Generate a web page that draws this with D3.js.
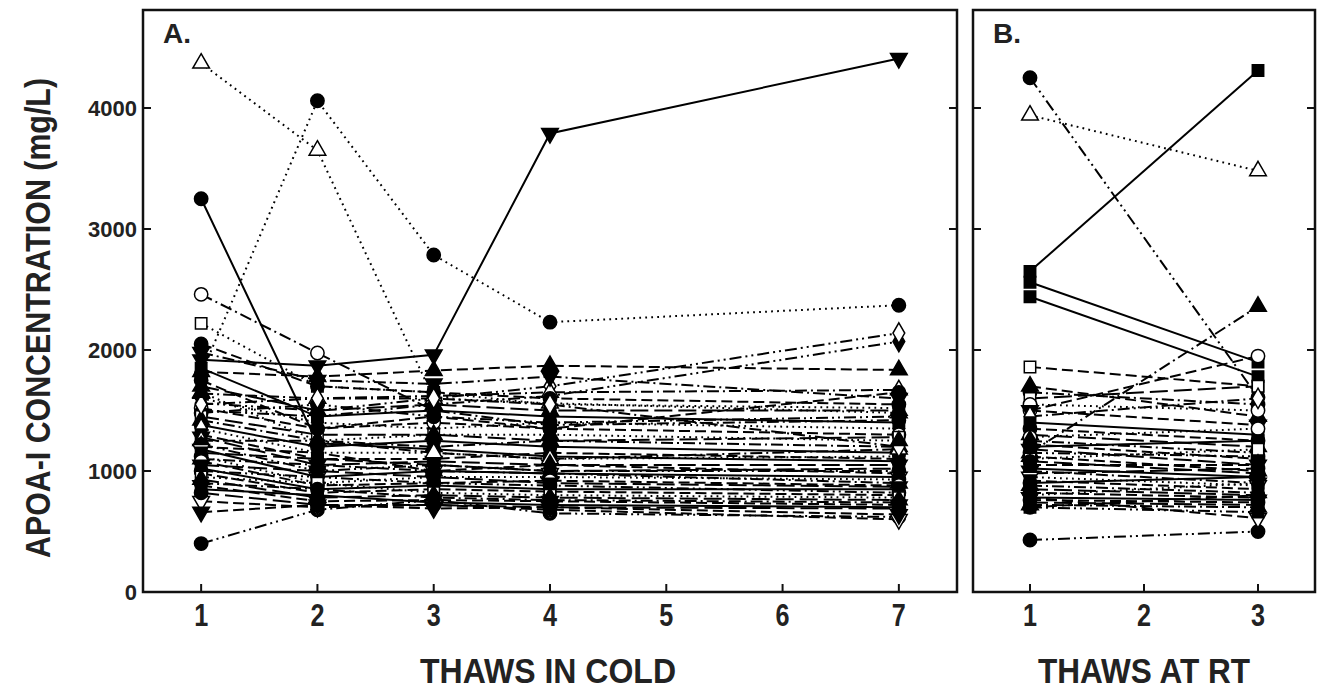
<!DOCTYPE html>
<html lang="en">
<head>
  <meta charset="UTF-8">
  <title>ApoA-I concentration after thaws</title>
  <script src="https://d3js.org/d3.v7.min.js"></script>
  <style>
    body, html {
      margin: 0;
      padding: 0;
      background: #fff;
      overflow: hidden;
    }
    svg {
      display: block;
    }
    .frame {
      fill: none;
      stroke: #111;
      stroke-width: 2.5px;
    }
    .tick-line {
      stroke: #111;
      stroke-width: 2px;
    }
    .ytick {
      font-family: "Liberation Sans", Arial, sans-serif;
      font-weight: bold;
      font-size: 22px;
      fill: #222;
    }
    .narrow {
      font-family: "Liberation Sans Narrow", "Liberation Sans", Arial, sans-serif;
      font-weight: bold;
      fill: #222;
    }
    .panel-tag {
      font-family: "Liberation Sans", Arial, sans-serif;
      font-weight: bold;
      font-size: 28px;
      fill: #222;
    }
    .series {
      fill: none;
      stroke: #000;
      stroke-width: 2px;
    }
  </style>
</head>
<body>
  <svg id="chart" width="1323" height="692"></svg>

  <script>
    // ---- data ----
    const yTicks = [0, 1000, 2000, 3000, 4000];

    // panel A: thaws in cold
    const coldThaws = [1, 2, 3, 4, 7];
    const coldTicks = [1, 2, 3, 4, 5, 6, 7];
    const coldValues = [
      [4370, 3650, 1600, 1560, 1480],
      [1800, 4060, 2785, 2230, 2370],
      [3250, 1230, 1180, 1120, 1080],
      [1920, 1870, 1960, 3790, 4410],
      [2460, 1975, 1500, 1380, 1420],
      [2220, 1700, 1650, 1550, 1520],
      [1820, 1780, 1830, 1870, 1835],
      [1500, 1450, 1550, 1620, 2070],
      [1560, 1500, 1600, 1700, 2140],
      [1640, 1600, 1620, 1650, 1670],
      [400, 680, 760, 650, 620],
      [750, 700, 720, 680, 600],
      [660, 720, 690, 700, 640],
      [2050, 1700, 1650, 1600, 1550],
      [1980, 1750, 1720, 1780, 1600],
      [1850, 1450, 1500, 1450, 1400],
      [1700, 1500, 1550, 1500, 1500],
      [1600, 1400, 1350, 1400, 1350],
      [1520, 1350, 1400, 1350, 1300],
      [1480, 1550, 1450, 1400, 1450],
      [1450, 1300, 1300, 1250, 1280],
      [1420, 1250, 1200, 1250, 1200],
      [1380, 1200, 1250, 1200, 1150],
      [1350, 1150, 1150, 1100, 1120],
      [1300, 1100, 1100, 1150, 1100],
      [1280, 1050, 1080, 1050, 1050],
      [1250, 1250, 1150, 1100, 1180],
      [1220, 1000, 1050, 1000, 1000],
      [1200, 1150, 1000, 1050, 980],
      [1180, 950, 1000, 980, 950],
      [1150, 1100, 1050, 1000, 1020],
      [1120, 900, 950, 950, 930],
      [1100, 1050, 1000, 980, 900],
      [1080, 880, 900, 920, 880],
      [1050, 1000, 950, 900, 870],
      [1020, 850, 880, 850, 850],
      [1000, 950, 900, 880, 820],
      [980, 820, 850, 830, 800],
      [950, 900, 820, 800, 780],
      [930, 780, 800, 780, 760],
      [900, 850, 780, 760, 740],
      [880, 750, 760, 750, 720],
      [850, 800, 740, 720, 700],
      [820, 720, 720, 700, 690],
      [1550, 1600, 1600, 1550, 1200],
      [1650, 1250, 1300, 1300, 1250],
      [1750, 1350, 1450, 1350, 1650]
    ];
    const coldMarker = [
      "ot", "fc", "fc", "fv", "oc", "os", "ft", "fd", "od", "ot", "fc", "ov", "fv",
      "fc", "fv", "fs", "ft", "fd", "oc", "fc", "os", "ft", "fc", "od", "fs",
      "fv", "ot", "fc", "fd", "ov", "fs", "fc", "ft", "oc", "fv", "fs", "fc",
      "fd", "os", "ft", "fc", "fv", "fs", "fc", "od", "ft", "fc"
    ];
    const coldLine = [
      "dot", "dot", "solid", "solid", "dashdot", "dot", "dash", "dashdotdot", "dashdotdot",
      "dashdot", "dashdotdot", "dash", "dash",
      "dash", "dashdot", "solid", "long", "dot", "dash", "dashdotdot", "long", "dashdot",
      "solid", "dot", "dash", "long", "dashdot", "dashdotdot", "dash", "solid", "long",
      "dot", "dashdot", "dash", "long", "solid", "dashdotdot", "dash", "dot", "long",
      "dashdot", "dash", "solid", "long", "dashdot", "dot", "dash"
    ];

    // panel B: thaws at room temperature
    const rtThaws = [1, 3];
    const rtTicks = [1, 2, 3];
    const rtValues = [
      [4250, 1610],
      [3940, 3480],
      [2650, 4310],
      [2560, 1900],
      [2440, 1780],
      [1150, 2360],
      [1860, 1700],
      [430, 500],
      [1500, 1950],
      [780, 610],
      [1700, 1450],
      [1650, 1550],
      [1600, 1700],
      [1550, 1500],
      [1500, 1380],
      [1450, 1600],
      [1400, 1300],
      [1350, 1250],
      [1300, 1200],
      [1280, 1350],
      [1250, 1150],
      [1220, 1100],
      [1200, 1250],
      [1180, 1050],
      [1150, 1120],
      [1120, 1000],
      [1100, 1180],
      [1080, 980],
      [1050, 1050],
      [1020, 950],
      [1000, 900],
      [980, 1020],
      [950, 880],
      [920, 850],
      [900, 950],
      [880, 820],
      [850, 800],
      [820, 780],
      [800, 900],
      [780, 760],
      [760, 740],
      [740, 720],
      [720, 700],
      [700, 800],
      [700, 660]
    ];
    const rtMarker = [
      "fc", "ot", "fs", "fs", "fs", "ft", "os", "fc", "oc", "ov", "ft",
      "fc", "os", "oc", "fv", "od", "fs", "fc", "ft", "oc", "fd", "fc",
      "fs", "fv", "fc", "ft", "os", "fc", "fd", "fs", "fv", "fc", "ov",
      "fs", "fc", "ft", "fd", "fc", "fs", "fv", "fc", "fs", "ft", "fc", "fs"
    ];
    const rtLine = [
      "dashdotdot", "dot", "solid", "solid", "solid", "dashdot", "dash", "dashdotdot", "dash", "dash", "dash",
      "dashdot", "long", "dot", "dash", "dashdot", "solid", "dash", "long", "dot", "dashdot", "dash",
      "solid", "long", "dashdotdot", "dash", "dot", "long", "dash", "solid", "dashdot", "long",
      "dot", "dash", "solid", "dashdot", "long", "dash", "dot", "solid", "dash", "long", "dashdot",
      "dash", "dashdotdot"
    ];

    // ---- layout ----
    const svg = d3.select("#chart");
    const yTop = 10, yBottom = 592;

    const y = d3.scaleLinear().domain([0, 4810]).range([yBottom, yTop]);

    const dashes = {
      solid: null,
      dot: "1.8,4.2",
      dash: "11,5",
      long: "18,6",
      dashdot: "12,4,2,4",
      dashdotdot: "12,4,2,4,2,4"
    };

    const shapes = {
      c: { type: d3.symbolCircle, size: 140, rot: 0 },
      s: { type: d3.symbolSquare, size: 130, rot: 0 },
      t: { type: d3.symbolTriangle, size: 120, rot: 0 },
      v: { type: d3.symbolTriangle, size: 120, rot: 180 },
      d: { type: d3.symbolDiamond, size: 120, rot: 0 }
    };

    function drawPanel(opts) {
      const x = d3.scaleLinear().domain(opts.domain).range([opts.left, opts.right]);
      const g = svg.append("g");

      // lines
      const line = d3.line()
        .x((d, i) => x(opts.thaws[i]))
        .y(d => y(d));

      g.selectAll("path.series")
        .data(opts.values)
        .join("path")
        .attr("class", "series")
        .attr("d", line)
        .attr("stroke-dasharray", (d, i) => dashes[opts.lines[i]]);

      // markers
      opts.values.forEach((vals, i) => {
        const code = opts.markers[i];
        const filled = code[0] === "f";
        const sh = shapes[code[1]];
        const sym = d3.symbol().type(sh.type).size(sh.size);
        g.selectAll(null)
          .data(vals)
          .join("path")
          .attr("d", sym)
          .attr("transform", (d, j) => `translate(${x(opts.thaws[j])},${y(d)}) rotate(${sh.rot})`)
          .attr("fill", filled ? "#000" : "#fff")
          .attr("stroke", "#000")
          .attr("stroke-width", 1.5);
      });

      // frame
      g.append("rect")
        .attr("class", "frame")
        .attr("x", opts.left)
        .attr("y", yTop)
        .attr("width", opts.right - opts.left)
        .attr("height", yBottom - yTop);

      // inward ticks
      const tl = 8;
      g.selectAll(null)
        .data(opts.ticks)
        .join("line")
        .attr("class", "tick-line")
        .attr("x1", d => x(d)).attr("x2", d => x(d))
        .attr("y1", yBottom).attr("y2", yBottom - tl);

      const yt = yTicks.filter(d => d > 0);
      g.selectAll(null)
        .data(yt)
        .join("line")
        .attr("class", "tick-line")
        .attr("x1", opts.left).attr("x2", opts.left + tl)
        .attr("y1", d => y(d)).attr("y2", d => y(d));
      g.selectAll(null)
        .data(yt)
        .join("line")
        .attr("class", "tick-line")
        .attr("x1", opts.right).attr("x2", opts.right - tl)
        .attr("y1", d => y(d)).attr("y2", d => y(d));

      // tick labels
      g.selectAll(null)
        .data(opts.ticks)
        .join("text")
        .attr("class", "narrow")
        .attr("x", d => x(d))
        .attr("y", 626)
        .attr("text-anchor", "middle")
        .attr("font-size", 31)
        .attr("textLength", 14)
        .attr("lengthAdjust", "spacingAndGlyphs")
        .text(d => d);

      // axis title
      g.append("text")
        .attr("class", "narrow")
        .attr("x", opts.titleX)
        .attr("y", 683)
        .attr("text-anchor", "middle")
        .attr("font-size", 35)
        .attr("textLength", opts.titleLen)
        .attr("lengthAdjust", "spacingAndGlyphs")
        .text(opts.title);

      // panel tag
      g.append("text")
        .attr("class", "panel-tag")
        .attr("x", opts.left + 20)
        .attr("y", 43)
        .text(opts.tag);

      return x;
    }

    drawPanel({
      left: 143, right: 957, domain: [0.5, 7.5],
      thaws: coldThaws, ticks: coldTicks,
      values: coldValues, markers: coldMarker, lines: coldLine,
      title: "THAWS IN COLD", titleX: 548, titleLen: 256, tag: "A."
    });

    drawPanel({
      left: 973, right: 1315, domain: [0.5, 3.5],
      thaws: rtThaws, ticks: rtTicks,
      values: rtValues, markers: rtMarker, lines: rtLine,
      title: "THAWS AT RT", titleX: 1144, titleLen: 212, tag: "B."
    });

    // y axis labels (left of panel A)
    svg.selectAll("text.ytick")
      .data(yTicks)
      .join("text")
      .attr("class", "ytick")
      .attr("x", 137)
      .attr("y", d => y(d) + 8)
      .attr("text-anchor", "end")
      .text(d => d);

    svg.append("text")
      .attr("class", "narrow")
      .attr("transform", "translate(50,318) rotate(-90)")
      .attr("text-anchor", "middle")
      .attr("font-size", 35)
      .attr("textLength", 480)
      .attr("lengthAdjust", "spacingAndGlyphs")
      .text("APOA-I CONCENTRATION (mg/L)");
  </script>
</body>
</html>
